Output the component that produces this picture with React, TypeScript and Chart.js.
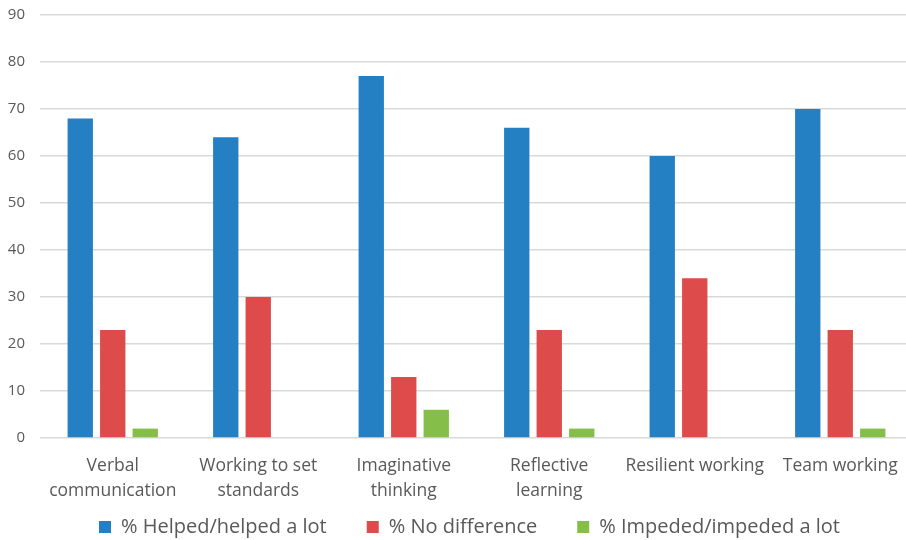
import React, { useEffect, useRef } from "react";
import { Chart, registerables } from "chart.js";

Chart.register(...registerables);

const categories: string[][] = [
  ["Verbal", "communication"],
  ["Working to set", "standards"],
  ["Imaginative", "thinking"],
  ["Reflective", "learning"],
  ["Resilient working"],
  ["Team working"],
];

const helped: number[] = [68, 64, 77, 66, 60, 70];
const noDifference: number[] = [23, 30, 13, 23, 34, 23];
const impeded: number[] = [2, 0, 6, 2, 0, 2];

const yTicks = { min: 0, max: 90, step: 10 };

const TEXT = "#595959";
const FONT = "'Open Sans', sans-serif";

// The legend reserves only a slim strip in the layout; it is then moved
// into place below the category labels.
const LEGEND_DX = 13;
const LEGEND_TEXT_Y = 529;
const LEGEND_PAD = 40;
const LEGEND_FONT = 20;

const legendPlace = {
  id: "legendPlace",
  afterLayout(chart: any) {
    const lg = chart.legend;
    if (!lg) return;
    const itemH = LEGEND_FONT * 1.2;
    const top = LEGEND_TEXT_Y - LEGEND_PAD - itemH / 2;
    const h = 100;
    lg.left += LEGEND_DX;
    lg.right += LEGEND_DX;
    lg.top = top;
    lg.bottom = top + h;
    lg.height = h;
  },
};

export default function App() {
  const ref = useRef<HTMLCanvasElement | null>(null);

  useEffect(() => {
    if (!ref.current) return;
    const chart = new Chart(ref.current, {
      type: "bar",
      data: {
        labels: categories,
        datasets: [
          { label: "% Helped/helped a lot", data: helped, backgroundColor: "#2580C3" },
          { label: "% No difference", data: noDifference, backgroundColor: "#DE4B4B" },
          { label: "% Impeded/impeded a lot", data: impeded, backgroundColor: "#86BE4A" },
        ],
      },
      plugins: [legendPlace],
      options: {
        animation: false,
        responsive: false,
        maintainAspectRatio: false,
        layout: { padding: { top: 15, left: 0, right: 0, bottom: 0 } },
        datasets: {
          bar: { categoryPercentage: 0.67, barPercentage: 0.78 },
        },
        plugins: {
          legend: {
            position: "bottom",
            maxHeight: 29,
            labels: {
              color: TEXT,
              font: { family: FONT, size: LEGEND_FONT },
              boxWidth: 12,
              boxHeight: 12,
              padding: LEGEND_PAD,
            },
          },
          tooltip: { enabled: false },
        },
        scales: {
          x: {
            grid: { display: false },
            border: { display: false },
            ticks: {
              color: TEXT,
              font: { family: FONT, size: 17.5, lineHeight: 1.4 },
              maxRotation: 0,
              autoSkip: false,
              padding: 8,
            },
          },
          y: {
            min: yTicks.min,
            max: yTicks.max,
            afterFit(scale: any) {
              scale.width = 40;
              scale.paddingTop = 0;
              scale.paddingBottom = 0;
            },
            grid: { color: "#D9D9D9", lineWidth: 1.5, drawTicks: false },
            border: { display: false },
            ticks: {
              stepSize: yTicks.step,
              color: TEXT,
              font: { family: FONT, size: 15 },
              padding: 15,
            },
          },
        },
      },
    });
    return () => chart.destroy();
  }, []);

  return (
    <div style={{ position: "fixed", left: 0, top: 0, width: 906, height: 540, overflow: "hidden", background: "#fff" }}>
      <canvas ref={ref} width={913} height={540} />
    </div>
  );
}
